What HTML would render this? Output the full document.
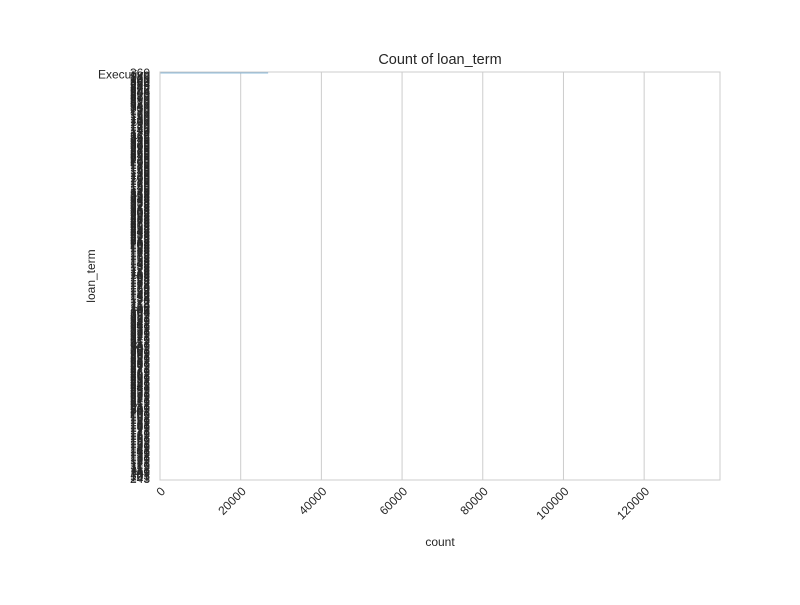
<!DOCTYPE html>
<html><head><meta charset="utf-8"><style>
body{margin:0;background:#fff;font-family:"Liberation Sans",sans-serif}
svg text{font-family:"Liberation Sans",sans-serif;fill:#262626}
</style></head><body>
<svg id="c" width="800" height="600"></svg>
<script>
const categories=["360","Executive","180","240","120","300","360","284","236","248","272","296","244","200","220","250","270","290","310","320","330","340","350","210","190","170","160","150","140","130","110","100","190","180","170","150","140","130","124","112","365","355","345","335","325","315","305","295","285","275","265","255","245","235","225","215","205","195","185","175","165","155","145","135","125","115","105","195","185","175","165","155","145","135","125","115","362","358","352","348","342","338","332","328","322","318","312","308","302","298","292","288","282","278","272","268","262","258","252","248","242","238","232","228","222","218","212","208","202","198","192","188","182","178","172","168","162","158","152","148","142","138","132","128","122","118","112","108","102","198","192","188","182","178","174","168","162","158","152","146","142","138","134","128","122","118","114","110","108","106","104","361","359","357","353","351","349","347","343","341","339","337","333","331","329","327","323","321","319","317","313","311","309","307","303","301","299","297","293","291","289","287","283","281","279","277","273","271","269","267","263","261","259","257","253","251","249","247","241","239","237","233","231","229","227","223","221","219","217","213","211","209","207","203","201","199","197","193","191","189","187","183","181","179","177","173","171","169","167","163","161","159","157","153","151","149","147","143","141","139","137","133","131","129","127","123","121","119","117","113","111","109","107","103","101","243"];
const counts=[26800,2];
const xTicks=[0,20000,40000,60000,80000,100000,120000];
const xMaxValue=[138800];
const NS="http://www.w3.org/2000/svg";
const svg=document.getElementById('c');
const L=160,R=720,T=72,B=480;
const x=v=>L+v/xMaxValue[0]*(R-L);
const band=(B-T)/categories.length;
const y=i=>T+i*band;
function mk(t,a,p){const e=document.createElementNS(NS,t);for(const k in a)e.setAttribute(k,a[k]);(p||svg).appendChild(e);return e;}
xTicks.forEach((v,i)=>{
 const g=mk('line',{x1:x(v),x2:x(v),y1:T,y2:B,stroke:'#cccccc','stroke-width':1});
 
 
 const tx=x(v)+6,ty=B+12;
 const t=mk('text',{x:tx,y:ty,'font-size':12,'text-anchor':'end',transform:`rotate(-45 ${tx} ${ty})`});
 t.textContent=v;
 
 
});
categories.forEach((c,i)=>{
 const v=i<counts.length?counts[i]:1;
 const r=mk('rect',{x:L,y:y(i)+band*0.1,width:Math.max(0,x(v)-L),height:band*0.8,fill:'#7fb2d6'});
 
 
 const t=mk('text',{x:L-10,y:y(i)+band/2+4,'font-size':12,'text-anchor':'end'});
 t.textContent=c;
 
 
});
const f=mk('rect',{x:L,y:T,width:R-L,height:B-T,fill:'none',stroke:'#cccccc','stroke-width':1});


const ti=mk('text',{x:440,y:64,'font-size':14.5,'text-anchor':'middle'});ti.textContent='Count of loan_term';


const xl=mk('text',{x:440,y:546,'font-size':12,'text-anchor':'middle'});xl.textContent='count';


const yl=mk('text',{x:95,y:276,'font-size':12,'text-anchor':'middle',transform:'rotate(-90 95 276)'});yl.textContent='loan_term';


</script>
</body></html>
